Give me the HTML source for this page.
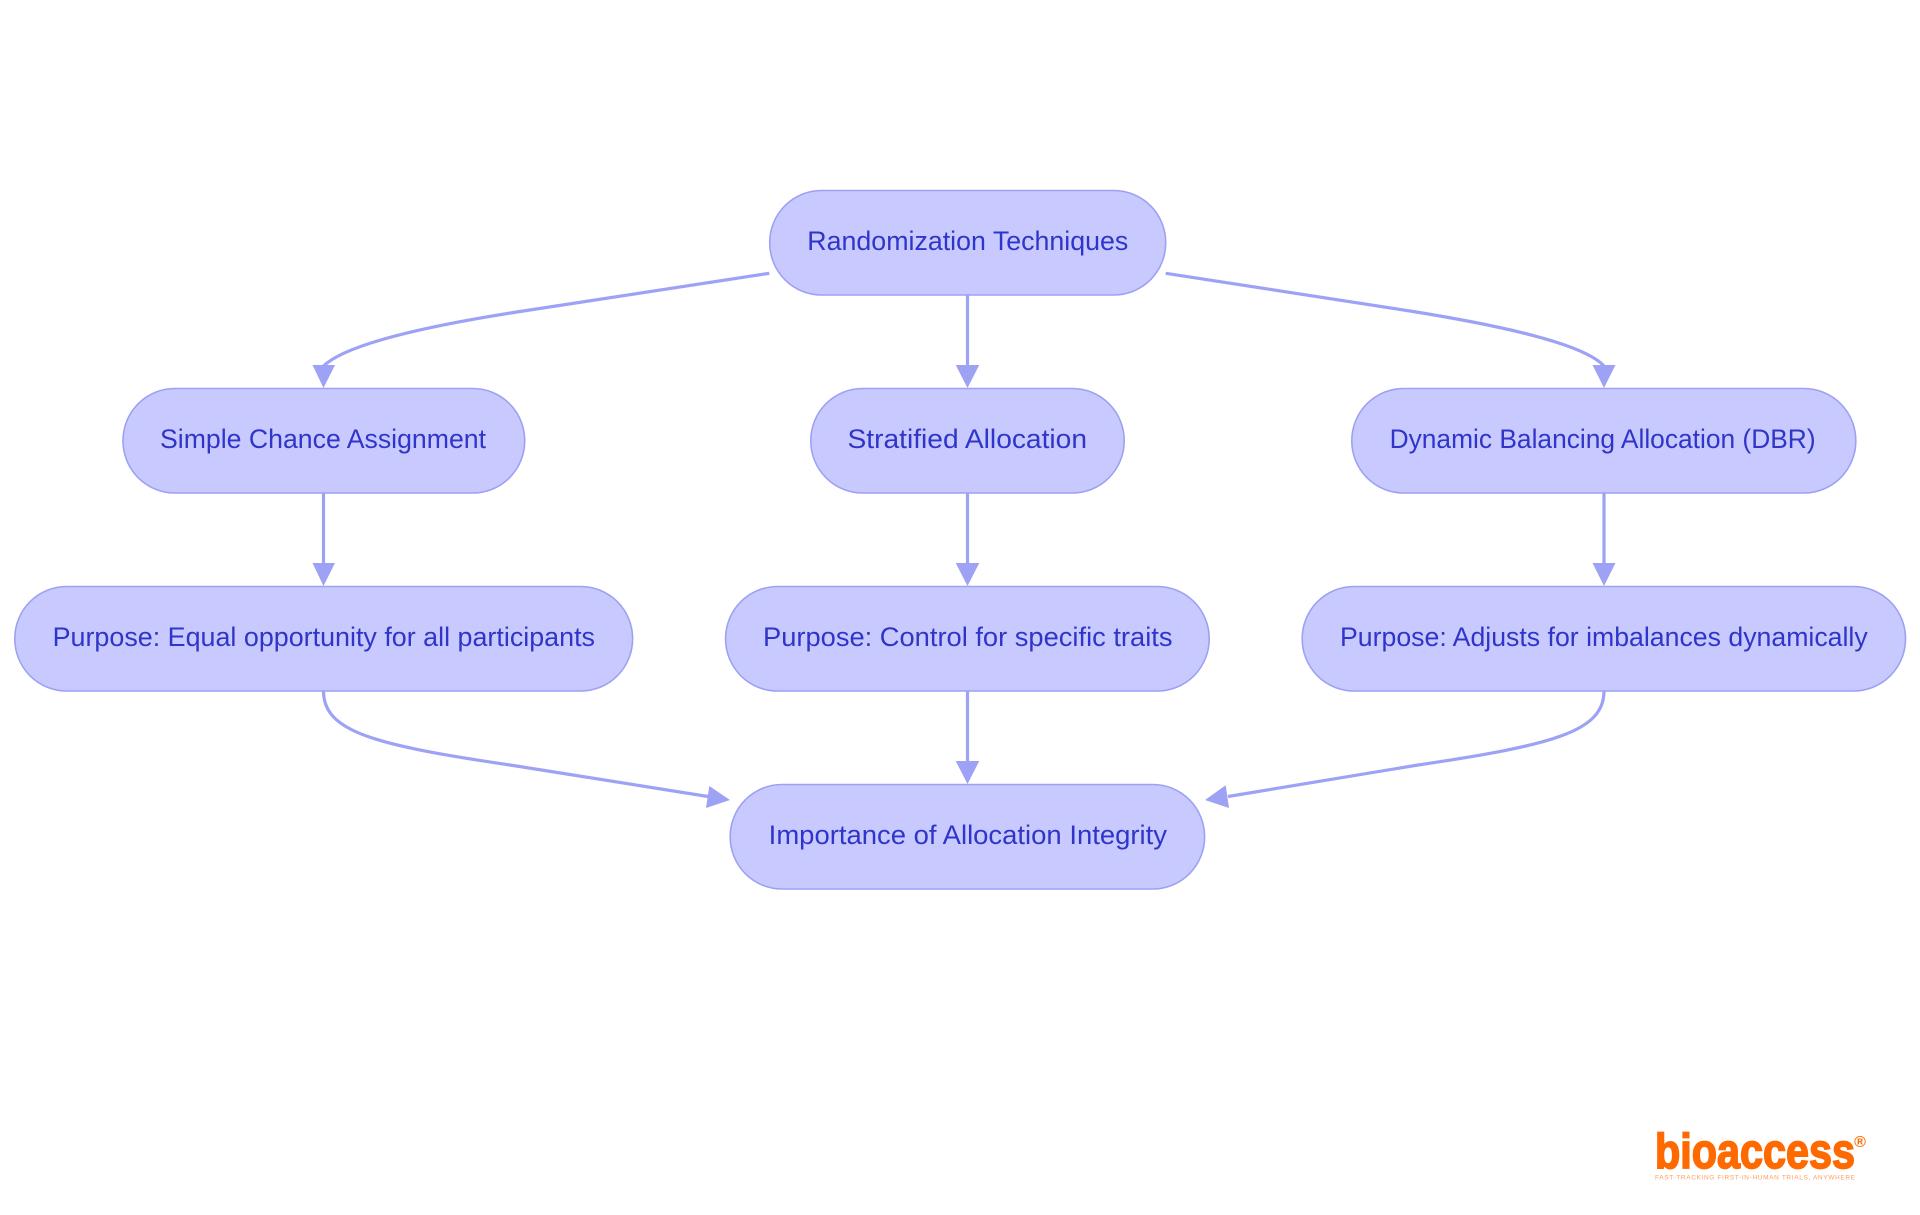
<!DOCTYPE html>
<html><head><meta charset="utf-8"><style>
html,body{margin:0;padding:0;background:#fff}
svg{display:block}
.n{fill:#c8caff;stroke:#9da1f3;stroke-width:1.6}
.e{fill:none;stroke:#9ea2f4;stroke-width:3.2}
.a{fill:#9ea2f4}
.t{font-family:"Liberation Sans",sans-serif;font-size:27px;fill:#2f35c9}
</style></head><body>
<svg width="1920" height="1215" viewBox="0 0 1920 1215" xmlns="http://www.w3.org/2000/svg">
<rect width="1920" height="1215" fill="#fff"/>
<!-- edges -->
<path class="e" d="M769.3 273.3 L520 311.5 C420 327 345 345 323.5 366"/>
<path class="e" d="M967.5 295 V366"/>
<path class="e" d="M1165.7 273.3 L1410 311 C1510 327 1585 345 1604 366"/>
<path class="e" d="M323.5 493 V564"/>
<path class="e" d="M967.5 493 V564"/>
<path class="e" d="M1604 493 V564"/>
<path class="e" d="M323.5 691 C323.5 732 375 745 510 765 L708 796.5"/>
<path class="e" d="M967.5 691 V762"/>
<path class="e" d="M1604 691 C1604 732 1552 745 1418 765 L1228 796.5"/>
<!-- arrowheads -->
<polygon class="a" points="312.5,365 335,365 323.5,388"/>
<polygon class="a" points="955.7,365 979.3,365 967.5,388"/>
<polygon class="a" points="1592.5,365 1615.5,365 1604,388"/>
<polygon class="a" points="312.5,563 335,563 323.5,586"/>
<polygon class="a" points="955.7,563 979.3,563 967.5,586"/>
<polygon class="a" points="1592.5,563 1615.5,563 1604,586"/>
<polygon class="a" points="955.7,761 979.3,761 967.5,784"/>
<polygon class="a" points="709.3,786 706,808 730,800"/>
<polygon class="a" points="1225.7,785.3 1229,808 1205,800"/>
<!-- nodes -->
<rect class="n" x="769.7" y="190.5" width="396" height="104.5" rx="52" ry="52"/>
<rect class="n" x="123" y="388.5" width="401.7" height="104.5" rx="52" ry="52"/>
<rect class="n" x="810.8" y="388.5" width="313.4" height="104.5" rx="52" ry="52"/>
<rect class="n" x="1351.8" y="388.5" width="504" height="104.5" rx="52" ry="52"/>
<rect class="n" x="14.8" y="586.5" width="617.8" height="104.5" rx="52" ry="52"/>
<rect class="n" x="725.6" y="586.5" width="483.6" height="104.5" rx="52" ry="52"/>
<rect class="n" x="1302.2" y="586.5" width="603.3" height="104.5" rx="52" ry="52"/>
<rect class="n" x="730.2" y="784.5" width="474.4" height="104.5" rx="52" ry="52"/>
<!-- labels -->
<text class="t" x="807.3" y="250" textLength="321" lengthAdjust="spacingAndGlyphs">Randomization Techniques</text>
<text class="t" x="160" y="448" textLength="326" lengthAdjust="spacingAndGlyphs">Simple Chance Assignment</text>
<text class="t" x="847.5" y="448" textLength="239.5" lengthAdjust="spacingAndGlyphs">Stratified Allocation</text>
<text class="t" x="1389.6" y="448" textLength="426" lengthAdjust="spacingAndGlyphs">Dynamic Balancing Allocation (DBR)</text>
<text class="t" x="52.6" y="646" textLength="542.4" lengthAdjust="spacingAndGlyphs">Purpose: Equal opportunity for all participants</text>
<text class="t" x="763" y="646" textLength="409.5" lengthAdjust="spacingAndGlyphs">Purpose: Control for specific traits</text>
<text class="t" x="1340" y="646" textLength="527.7" lengthAdjust="spacingAndGlyphs">Purpose: Adjusts for imbalances dynamically</text>
<text class="t" x="768.7" y="844" textLength="398.3" lengthAdjust="spacingAndGlyphs">Importance of Allocation Integrity</text>
<!-- logo -->
<text transform="translate(1655,1168) scale(1,1.22)" textLength="200" lengthAdjust="spacingAndGlyphs" font-family="'Liberation Sans',sans-serif" font-weight="700" font-size="40" fill="#ff6a00" stroke="#ff6a00" stroke-width="1.4">bioaccess</text>
<text x="1860" y="1147" text-anchor="middle" font-family="'Liberation Sans',sans-serif" font-weight="700" font-size="16" fill="#ff6a00">®</text>
<text x="1655" y="1179.5" textLength="200" lengthAdjust="spacing" font-family="'Liberation Sans',sans-serif" font-size="6.5" fill="#ff6a00" fill-opacity="0.65">FAST-TRACKING FIRST-IN-HUMAN TRIALS, ANYWHERE</text>
</svg>
</body></html>
